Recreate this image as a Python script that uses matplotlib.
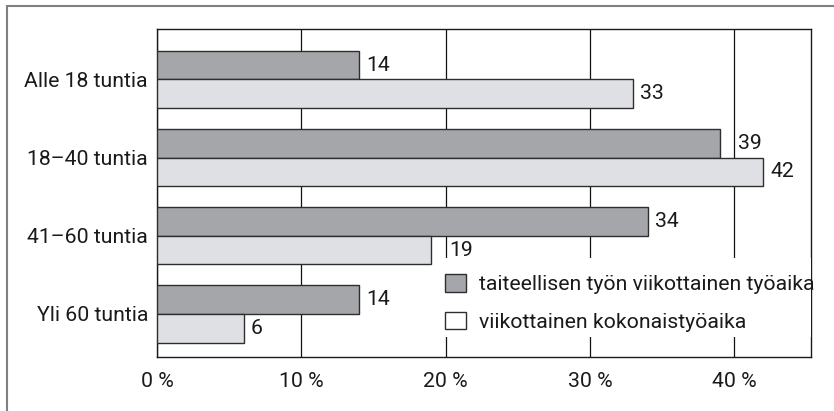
import matplotlib
matplotlib.use("Agg")
import matplotlib.pyplot as plt
from matplotlib.patches import Rectangle
import numpy as np

categories = ["Alle 18 tuntia", "18–40 tuntia", "41–60 tuntia", "Yli 60 tuntia"]
artistic_hours = [14, 39, 34, 14]
total_hours = [33, 42, 19, 6]
series_labels = ["taiteellisen työn viikottainen työaika", "viikottainen kokonaistyöaika"]
x_ticks = [0, 10, 20, 30, 40]
x_tick_labels = ["0 %", "10 %", "20 %", "30 %", "40 %"]

plt.rcParams["font.family"] = ["Roboto", "DejaVu Sans"]
FS = 15.3
TXT = "#1a1a1a"

DARK = "#a4a6a9"
LIGHT = "#dfe0e4"
EDGE = "#2e2e2e"

XMAX = 45.3
AX_W_PX = 654

fig = plt.figure(figsize=(8.34, 4.11), dpi=100)
ax = fig.add_axes([157 / 834, 1 - 357 / 411, AX_W_PX / 834, 328 / 411])

y = np.arange(len(categories))
h = 0.365
ax.barh(y - h / 2, artistic_hours, height=h, color=DARK, edgecolor=EDGE,
        linewidth=1.0, zorder=3, label=series_labels[0])
ax.barh(y + h / 2, total_hours, height=h, color=LIGHT, edgecolor=EDGE,
        linewidth=1.0, zorder=3, label=series_labels[1])

px = XMAX / AX_W_PX  # data units per pixel


def label_x(v):
    # put the value just right of the bar, but step past a grid line it would cross
    x0 = v + 7 * px
    for g in x_ticks[1:]:
        if x0 - 2 * px < g < x0 + 22 * px:
            x0 = g + 4 * px
    return x0


for yi, v in zip(y, artistic_hours):
    ax.text(label_x(v), yi - h / 2, str(v), va="center", ha="left",
            fontsize=FS, color=TXT)
for yi, v in zip(y, total_hours):
    ax.text(label_x(v), yi + h / 2, str(v), va="center", ha="left",
            fontsize=FS, color=TXT)

ax.set_xlim(0, XMAX)
ax.set_ylim(3.55, -0.645)
ax.set_yticks(y)
ax.set_yticklabels(categories, fontsize=FS, color=TXT)
ax.set_xticks(x_ticks)
ax.set_xticklabels(x_tick_labels, fontsize=FS, color=TXT)
ax.tick_params(axis="both", length=0)
ax.tick_params(axis="x", pad=11)
ax.tick_params(axis="y", pad=6.5)
ax.grid(axis="x", color="#111111", linewidth=0.9, zorder=0)
ax.set_axisbelow(True)
for s in ax.spines.values():
    s.set_color(TXT)
    s.set_linewidth(1.0)

# white area behind the legend that hides the grid
ax.add_patch(Rectangle((0.436, 0.061), 0.564, 0.241, transform=ax.transAxes,
                       facecolor="white", edgecolor="none", zorder=4))

handles = [Rectangle((0, 0), 1, 1, facecolor=DARK, edgecolor=EDGE, linewidth=1.0),
           Rectangle((0, 0), 1, 1, facecolor="white", edgecolor=EDGE, linewidth=1.0)]
leg = ax.legend(handles, series_labels, loc="upper left",
                bbox_to_anchor=((445 - 157) / 654, (357 - 274) / 328),
                frameon=False, fontsize=FS, borderpad=0, borderaxespad=0,
                handlelength=1.0, handleheight=0.91, handletextpad=0.6,
                labelspacing=0.82)
leg.set_zorder(5)
for t in leg.get_texts():
    t.set_color(TXT)

# outer frame, only left and top edges fall inside the picture
fig.add_artist(Rectangle((7 / 834, -0.05), 1.0, 1.05 - 6 / 411,
                         transform=fig.transFigure, facecolor="none",
                         edgecolor="#808080", linewidth=1.5))

fig.savefig("out.png", dpi=100)
